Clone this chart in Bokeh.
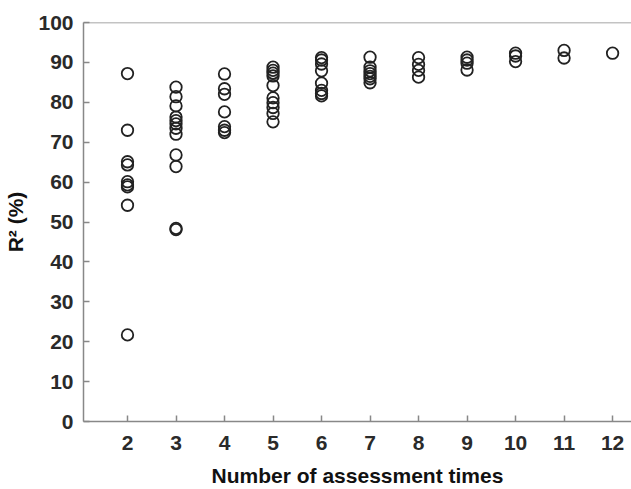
from bokeh.plotting import figure
from bokeh.models import FixedTicker, Span, Range1d, ColumnDataSource
from bokeh.embed import file_html
from bokeh.resources import INLINE

# R² (%) values for each number of assessment times
r2_2 = [87.2, 73.0, 65.1, 64.3, 60.1, 59.3, 58.8, 54.2, 21.7]
r2_3 = [83.8, 81.4, 79.1, 76.3, 75.4, 74.6, 73.5, 72.0, 66.8, 63.9, 48.4, 48.1]
r2_4 = [87.1, 83.4, 82.0, 77.6, 73.9, 73.0, 72.4]
r2_5 = [88.8, 88.0, 87.3, 86.6, 84.2, 81.1, 79.9, 78.7, 77.2, 75.1]
r2_6 = [91.2, 90.6, 89.6, 87.9, 84.8, 83.0, 82.2, 81.6]
r2_7 = [91.3, 88.8, 87.9, 87.2, 86.5, 85.9, 84.9]
r2_8 = [91.2, 89.5, 88.0, 86.3]
r2_9 = [91.3, 90.6, 89.8, 88.1]
r2_10 = [92.3, 91.6, 90.2]
r2_11 = [93.0, 91.1]
r2_12 = [92.3]

times = [2, 3, 4, 5, 6, 7, 8, 9, 10, 11, 12]
groups = [r2_2, r2_3, r2_4, r2_5, r2_6, r2_7, r2_8, r2_9, r2_10, r2_11, r2_12]
x_ticks = [2, 3, 4, 5, 6, 7, 8, 9, 10, 11, 12]
y_ticks = [0, 10, 20, 30, 40, 50, 60, 70, 80, 90, 100]

xs, ys = [], []
for t, vals in zip(times, groups):
    for v in vals:
        xs.append(t)
        ys.append(v)
src = ColumnDataSource(dict(x=xs, y=ys))

p = figure(width=631, height=489, output_backend="svg", toolbar_location=None,
           x_range=Range1d(1.093, 12.39), y_range=Range1d(0, 100),
           min_border_left=83, min_border_right=0, min_border_top=22,
           min_border_bottom=67)
p.background_fill_color = "white"
p.border_fill_color = "white"
p.outline_line_color = None
p.grid.visible = False

p.scatter("x", "y", source=src, marker="circle", size=11.5,
          fill_color=None, line_color="#222222", line_width=1.8)

axis_color = "#888888"
for ax in (p.xaxis[0], p.yaxis[0]):
    ax.axis_line_color = axis_color
    ax.axis_line_width = 1.5
    ax.major_tick_line_color = axis_color
    ax.major_tick_line_width = 1.5
    ax.major_tick_in = 6
    ax.major_tick_out = 0
    ax.minor_tick_line_color = None
    ax.major_label_text_font = "Liberation Sans"
    ax.major_label_text_font_style = "bold"
    ax.major_label_text_font_size = "21px"
    ax.major_label_text_color = "#2a2a2a"
    ax.axis_label_text_font = "Liberation Sans"
    ax.axis_label_text_font_style = "bold"
    ax.axis_label_text_font_size = "21px"
    ax.axis_label_text_color = "#111111"

p.xaxis.ticker = FixedTicker(ticks=x_ticks)
p.yaxis.ticker = FixedTicker(ticks=y_ticks)
p.xaxis.axis_label = "Number of assessment times"
p.yaxis.axis_label = "R² (%)"
p.xaxis.major_label_standoff = 14
p.xaxis.axis_label_standoff = 11
p.xaxis.axis_label_text_line_height = 0.8
p.yaxis.major_label_standoff = 10
p.yaxis.axis_label_standoff = 8

top = Span(location=100, dimension="width", line_color=axis_color, line_width=1.5)
p.add_layout(top)

open("out.html", "w").write(file_html(p, INLINE))
